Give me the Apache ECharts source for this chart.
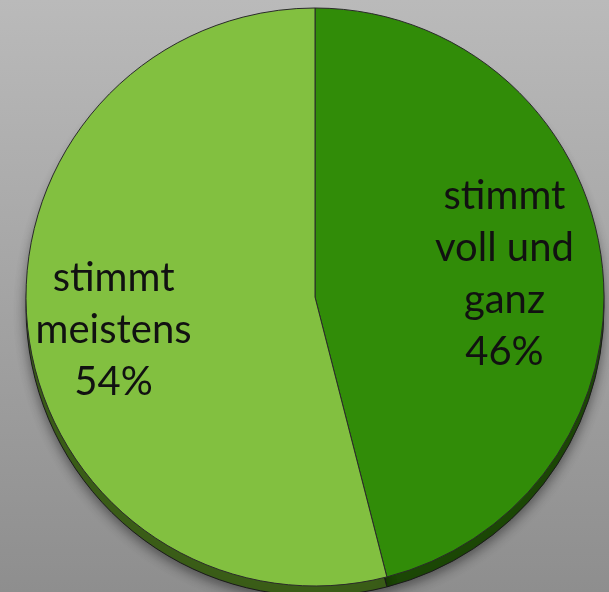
<!DOCTYPE html>
<html>
<head>
<meta charset="utf-8">
<script src="https://cdn.jsdelivr.net/npm/echarts@6/dist/echarts.min.js"></script>
<style>
  html, body { margin: 0; padding: 0; }
  #chart { width: 609px; height: 592px; }
</style>
</head>
<body>
<div id="chart"></div>
<script>
  // answer categories and their shares (percent)
  const categories = ["stimmt\nvoll und\nganz", "stimmt\nmeistens"];
  const shares = [46, 54];
  const topColors = ["#318c08", "#82c040"];
  const sideColors = ["#1c4806", "#3b5e18"];

  const chart = echarts.init(document.getElementById("chart"));

  const cx = 315;
  const cy = 297;
  const r = 289;

  // small nudges for the label blocks
  const labelShift = [
    { dx: -8, dy: 2 },
    { dx: -4, dy: 8 },
  ];

  const pieData = (colors) =>
    categories.map((name, i) => ({
      name: name,
      value: shares[i],
      itemStyle: { color: colors[i] },
    }));

  chart.setOption({
    animation: false,
    backgroundColor: new echarts.graphic.LinearGradient(0, 0, 0, 1, [
      { offset: 0, color: "#bababa" },
      { offset: 1, color: "#8e8e8e" },
    ]),
    series: [
      {
        // side of the disc (3d edge)
        type: "pie",
        silent: true,
        startAngle: 90,
        center: [cx, cy + 10],
        radius: [0, r],
        label: { show: false },
        labelLine: { show: false },
        itemStyle: {
          borderColor: "#1a1a1a",
          borderWidth: 1,
          shadowBlur: 12,
          shadowColor: "rgba(0,0,0,0.45)",
          shadowOffsetY: 4,
        },
        data: pieData(sideColors),
      },
      {
        type: "pie",
        silent: true,
        startAngle: 90,
        center: [cx, cy],
        radius: [0, r],
        label: { show: false },
        labelLine: { show: false },
        itemStyle: {
          borderColor: "#2a2a2a",
          borderWidth: 1,
        },
        data: pieData(topColors),
      },
      {
        // transparent ring used only to place the labels
        type: "pie",
        silent: true,
        startAngle: 90,
        center: [cx, cy],
        radius: [100, 292],
        itemStyle: { color: "transparent" },
        label: {
          show: true,
          position: "inside",
          color: "#111",
          fontFamily: "Lato",
          fontSize: 40,
          lineHeight: 52,
          formatter: (p) => p.name + "\n" + p.value + "%",
        },
        labelLayout: (p) => labelShift[p.dataIndex],
        labelLine: { show: false },
        data: categories.map((name, i) => ({ name: name, value: shares[i] })),
      },
    ],
  });
</script>
</body>
</html>
